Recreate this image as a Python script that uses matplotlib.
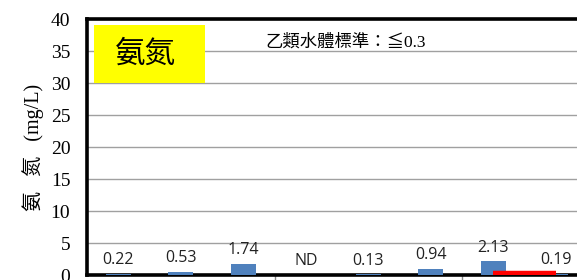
import matplotlib
matplotlib.use("Agg")
import matplotlib.pyplot as plt
from matplotlib.patches import Rectangle

# Data
values = [0.22, 0.53, 1.74, 0.0, 0.13, 0.94, 2.13, 0.19]
labels = ["0.22", "0.53", "1.74", "ND", "0.13", "0.94", "2.13", "0.19"]
standard = 0.3
standard_span = [6, 7]
y_ticks = [0, 5, 10, 15, 20, 25, 30, 35, 40]
group_ticks = [2.5, 5.5]

fig = plt.figure(figsize=(5.77, 2.80), dpi=100)
ax = fig.add_axes([87/577, 5/280, 1 - 87/577, 256/280])

x = list(range(len(values)))
ax.bar(x, values, width=0.4, color="#4F81BD", zorder=3)
ax.plot([standard_span[0], standard_span[1]], [standard, standard],
        color="#FF0000", lw=3.2, zorder=4, solid_capstyle="butt")

for xi, v, lab in zip(x, values, labels):
    ax.annotate(lab, (xi, v), xytext=(0, 4), textcoords="offset points",
                ha="center", va="bottom", fontsize=11.5,
                family=["Open Sans", "DejaVu Sans"], color="#222222")

ax.set_ylim(0, 40)
ax.set_xlim(-0.5, 7.34)
ax.set_yticks(y_ticks)
ax.set_yticklabels([str(t) for t in y_ticks], family="Liberation Serif", fontsize=14)
ax.tick_params(axis="y", length=0, pad=12)
ax.set_xticks(group_ticks)
ax.set_xticklabels([])
ax.tick_params(axis="x", length=6, width=1, color="#888888", direction="out")

ax.grid(axis="y", color="#A0A0A0", lw=1, zorder=0)
ax.set_axisbelow(True)
for s in ["left", "top", "bottom"]:
    ax.spines[s].set_linewidth(2.6)
    ax.spines[s].set_color("black")
ax.spines["right"].set_visible(False)

ax.set_ylabel("氨   氮   (mg/L)", family=["Liberation Serif", "Noto Sans CJK TC"],
              fontsize=14.5, labelpad=5)

# Yellow title box
tr = ax.get_yaxis_transform()
ax.add_patch(Rectangle(((94-87)/490, 30), (205-94)/490, 9.1, transform=tr,
                       facecolor="#FFFF00", edgecolor="none", zorder=5))
ax.text((145-87)/490, 34.5, "氨氮", transform=tr, ha="center", va="center",
        fontsize=22, family=["Noto Sans CJK TC"], zorder=6)
ax.text((346-87)/490, 36.3, "乙類水體標準：≦0.3", transform=tr, ha="center", va="center",
        fontsize=12.5, family=["Liberation Serif", "Noto Sans CJK TC", "DejaVu Sans"], zorder=6)

fig.savefig("out.png", dpi=100)
